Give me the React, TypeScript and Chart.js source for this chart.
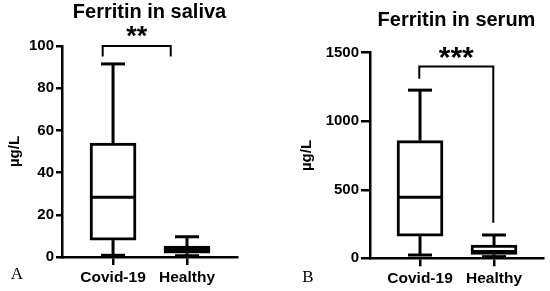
import React, { useEffect, useRef } from "react";
import { Chart, registerables } from "chart.js";
Chart.register(...registerables);

const categories = ["Covid-19", "Healthy"];

const salivaMin = [0.8, 0.6];
const salivaQ1 = [8, 1.8];
const salivaMedian = [28.3, 3.5];
const salivaQ3 = [54, 5.2];
const salivaMax = [91.5, 9.6];
const salivaTicks = [0, 20, 40, 60, 80, 100];
const salivaBracketX = [-0.14, 0.78];
const salivaBracketY = [95, 100, 95];

const serumMin = [24, 12];
const serumQ1 = [161, 29];
const serumMedian = [446, 50];
const serumQ3 = [859, 97];
const serumMax = [1227, 170];
const serumTicks = [0, 500, 1000, 1500];
const serumBracketX = [-0.01, 0.99];
const serumBracketY = [1310, 1400, 260];

const FONT = '"Liberation Sans", Arial, sans-serif';

const boxPlugin = {
  id: "boxExtras",
  afterDatasetsDraw(chart: any, _args: any, opts: any) {
    const { ctx } = chart;
    const x = chart.scales.x;
    const y = chart.scales.y;
    ctx.save();
    ctx.strokeStyle = "#000";
    ctx.fillStyle = "#000";
    ctx.lineWidth = 3;
    const seg = (x0: number, y0: number, x1: number, y1: number) => {
      ctx.beginPath();
      ctx.moveTo(x0, y0);
      ctx.lineTo(x1, y1);
      ctx.stroke();
    };
    const half = opts.boxWidth / 2;
    const cap = opts.capWidth / 2;
    opts.min.forEach((mn: number, i: number) => {
      const cx = x.getPixelForValue(i);
      const yMed = y.getPixelForValue(opts.median[i]);
      seg(cx - half + 1.5, yMed, cx + half - 1.5, yMed);
      const yQ3 = y.getPixelForValue(opts.q3[i]);
      const yMax = y.getPixelForValue(opts.max[i]);
      seg(cx, yQ3, cx, yMax);
      seg(cx - cap, yMax, cx + cap, yMax);
      const yQ1 = y.getPixelForValue(opts.q1[i]);
      const yMin = y.getPixelForValue(mn);
      seg(cx, yQ1, cx, yMin);
      seg(cx - cap, yMin, cx + cap, yMin);
    });
    // significance bracket
    ctx.lineWidth = 2;
    const bx0 = x.getPixelForValue(opts.bracketX[0]);
    const bx1 = x.getPixelForValue(opts.bracketX[1]);
    const yl = y.getPixelForValue(opts.bracketY[0]);
    const yt = y.getPixelForValue(opts.bracketY[1]);
    const yr = y.getPixelForValue(opts.bracketY[2]);
    ctx.beginPath();
    ctx.moveTo(bx0, yl);
    ctx.lineTo(bx0, yt);
    ctx.lineTo(bx1, yt);
    ctx.lineTo(bx1, yr);
    ctx.stroke();
    ctx.font = `bold ${opts.starSize}px ${FONT}`;
    ctx.textAlign = "center";
    ctx.textBaseline = "alphabetic";
    ctx.fillText(opts.stars, (bx0 + bx1) / 2, yt + opts.starOffset);
    // panel letter
    ctx.font = '17px "Liberation Serif", "Times New Roman", serif';
    ctx.textAlign = "center";
    ctx.textBaseline = "middle";
    ctx.fillText(opts.letter, opts.letterX, opts.letterY);
    ctx.restore();
  },
};

type PanelProps = {
  title: string;
  min: number[];
  q1: number[];
  median: number[];
  q3: number[];
  max: number[];
  ticks: number[];
  bracketX: number[];
  bracketY: number[];
  stars: string;
  starSize: number;
  starOffset: number;
  letter: string;
  letterX: number;
  letterY: number;
  axisWidth: number;
  axisHeight: number;
  xMin: number;
  xMax: number;
  padTop: number;
  padRight: number;
  titleGap: number;
  yTitlePad: number;
  tickLen: number;
};

function Panel(p: PanelProps) {
  const ref = useRef<HTMLCanvasElement>(null);
  useEffect(() => {
    if (!ref.current) return;
    const chart = new Chart(ref.current, {
      type: "bar",
      data: {
        datasets: [
          {
            data: p.q1.map((v, i) => ({ x: i, y: [v, p.q3[i]] })) as any,
            backgroundColor: "#fff",
            borderColor: "#000",
            borderWidth: 3,
            borderSkipped: false,
            barThickness: 46,
          },
        ],
      },
      options: {
        responsive: false,
        animation: false,
        devicePixelRatio: 1,
        layout: { padding: { top: p.padTop, left: 0, right: p.padRight, bottom: 0 } },
        plugins: {
          legend: { display: false },
          tooltip: { enabled: false },
          title: {
            display: true,
            text: p.title,
            fullSize: false,
            color: "#000",
            font: { family: FONT, size: 20, weight: "bold", lineHeight: 1.2 },
            padding: { top: 0, bottom: p.titleGap },
          },
          boxExtras: {
            min: p.min,
            q1: p.q1,
            median: p.median,
            q3: p.q3,
            max: p.max,
            boxWidth: 46,
            capWidth: 24,
            bracketX: p.bracketX,
            bracketY: p.bracketY,
            stars: p.stars,
            starSize: p.starSize,
            starOffset: p.starOffset,
            letter: p.letter,
            letterX: p.letterX,
            letterY: p.letterY,
          },
        } as any,
        scales: {
          x: {
            type: "linear",
            offset: false,
            min: p.xMin,
            max: p.xMax,
            afterBuildTicks: (axis: any) => {
              axis.ticks = categories.map((_, i) => ({ value: i }));
            },
            afterFit: (scale: any) => {
              scale.height = p.axisHeight;
            },
            ticks: {
              callback: (v: any) => categories[v as number] ?? "",
              color: "#000",
              font: { family: FONT, size: 15.5, weight: "bold" },
              padding: 3,
              maxRotation: 0,
              autoSkip: false,
            },
            grid: {
              offset: false,
              drawOnChartArea: false,
              drawTicks: true,
              tickLength: 8,
              color: "#000",
              lineWidth: 2.5,
            },
            border: { display: true, color: "#000", width: 2.5 },
          },
          y: {
            type: "linear",
            min: p.ticks[0],
            max: p.ticks[p.ticks.length - 1],
            afterBuildTicks: (axis: any) => {
              axis.ticks = p.ticks.map((v) => ({ value: v }));
            },
            afterFit: (scale: any) => {
              scale.width = p.axisWidth;
            },
            ticks: {
              callback: (v: any) => String(v),
              color: "#000",
              font: { family: FONT, size: 15, weight: "bold" },
              padding: 2,
            },
            grid: {
              drawOnChartArea: false,
              drawTicks: true,
              tickLength: p.tickLen,
              color: "#000",
              lineWidth: 2.5,
            },
            border: { display: true, color: "#000", width: 2.5 },
            title: {
              display: true,
              text: "µg/L",
              color: "#000",
              font: { family: FONT, size: 15, weight: "bold", lineHeight: 1.2 },
              padding: { top: p.yTitlePad, bottom: 0 },
            },
          },
        },
      },
      plugins: [boxPlugin as any],
    });
    return () => chart.destroy();
  }, []);
  return <canvas ref={ref} width={275} height={291} style={{ display: "block" }} />;
}

export default function App() {
  return (
    <div style={{ position: "fixed", left: 0, top: 0, width: 550, height: 291, display: "flex", background: "#fff" }}>
      <Panel
        title="Ferritin in saliva"
        min={salivaMin}
        q1={salivaQ1}
        median={salivaMedian}
        q3={salivaQ3}
        max={salivaMax}
        ticks={salivaTicks}
        bracketX={salivaBracketX}
        bracketY={salivaBracketY}
        stars="**"
        starSize={27}
        starOffset={-1.5}
        letter="A"
        letterX={17}
        letterY={275}
        axisWidth={62}
        axisHeight={34}
        xMin={-0.69}
        xMax={1.676}
        padTop={0}
        padRight={38}
        titleGap={22}
        yTitlePad={6}
        tickLen={6}
      />
      <Panel
        title="Ferritin in serum"
        min={serumMin}
        q1={serumQ1}
        median={serumMedian}
        q3={serumQ3}
        max={serumMax}
        ticks={serumTicks}
        bracketX={serumBracketX}
        bracketY={serumBracketY}
        stars="***"
        starSize={30}
        starOffset={0.5}
        letter="B"
        letterX={33}
        letterY={278}
        axisWidth={95}
        axisHeight={32.7}
        xMin={-0.676}
        xMax={1.662}
        padTop={8}
        padRight={7}
        titleGap={20.7}
        yTitlePad={23}
        tickLen={9}
      />
    </div>
  );
}
